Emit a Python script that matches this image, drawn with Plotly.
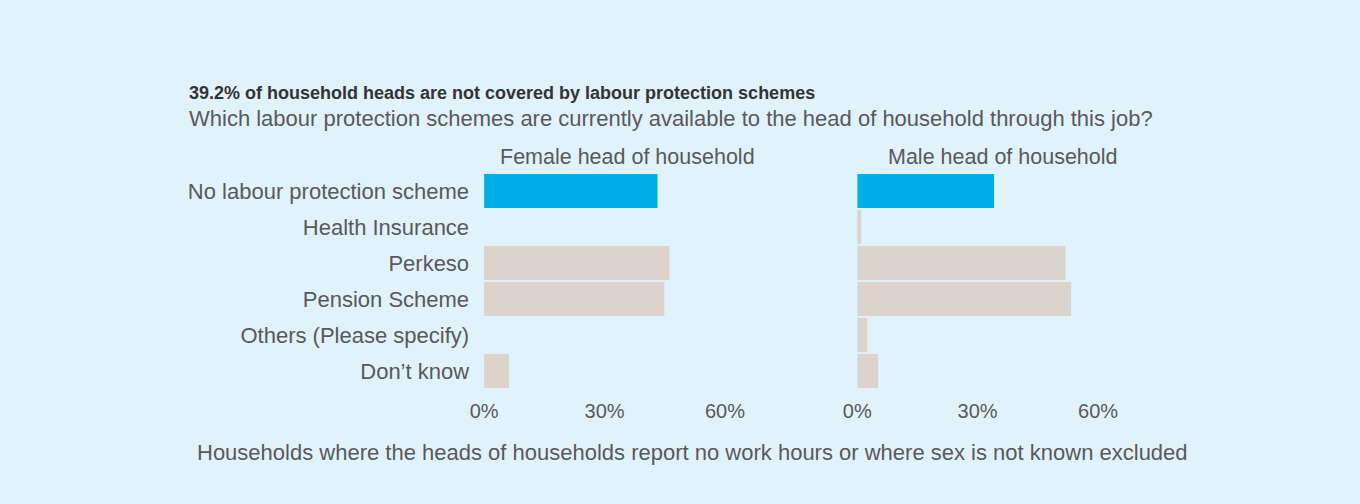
import plotly.graph_objects as go

# Survey categories (top to bottom) and share of household heads (%)
categories = [
    "No labour protection scheme",
    "Health Insurance",
    "Perkeso",
    "Pension Scheme",
    "Others (Please specify)",
    "Don\u2019t know",
]
female_pct = [43.2, 0.0, 46.2, 44.9, 0.0, 6.2]
male_pct = [34.1, 1.0, 51.9, 53.3, 2.5, 5.2]

panel_titles = ["Female head of household", "Male head of household"]
tick_values = [0, 30, 60]
tick_labels = ["0%", "30%", "60%"]

title_text = "39.2% of household heads are not covered by labour protection schemes"
subtitle_text = ("Which labour protection schemes are currently available to the head "
                 "of household through this job?")
note_text = ("Households where the heads of households report no work hours or where "
             "sex is not known excluded")

W, H = 1360, 504
BG = "#e0f3fd"
BLUE = "#00aee6"
BEIGE = "#dcd3cc"
TEXT = "#595959"
FONT = "Liberation Sans, Arial, sans-serif"


def px_x(x):
    return x / W


def px_y(y):
    return 1 - y / H


bar_colors = [BLUE] + [BEIGE] * (len(categories) - 1)

fig = go.Figure()
fig.add_trace(go.Bar(
    x=female_pct, y=categories, orientation="h",
    marker=dict(color=bar_colors, line=dict(width=0)),
    xaxis="x", yaxis="y", hoverinfo="x+y", showlegend=False,
))
fig.add_trace(go.Bar(
    x=male_pct, y=categories, orientation="h",
    marker=dict(color=bar_colors, line=dict(width=0)),
    xaxis="x2", yaxis="y2", hoverinfo="x+y", showlegend=False,
))

y_dom = [px_y(389), px_y(173)]
x_common = dict(
    range=[0, 72], tickvals=tick_values, ticktext=tick_labels,
    showgrid=False, zeroline=False, showline=False, ticks="",
    tickfont=dict(size=20, color=TEXT, family=FONT),
    ticklabelstandoff=8, fixedrange=True,
)
y_common = dict(
    categoryorder="array", categoryarray=categories, autorange="reversed",
    showgrid=False, zeroline=False, showline=False, ticks="",
    tickfont=dict(size=22, color=TEXT, family=FONT), fixedrange=True,
    domain=y_dom,
)

fig.update_layout(
    width=W, height=H,
    margin=dict(l=0, r=0, t=0, b=0),
    paper_bgcolor=BG, plot_bgcolor=BG,
    bargap=0.056,
    font=dict(family=FONT, color=TEXT),
    xaxis=dict(domain=[px_x(475), px_x(767)], anchor="y", **x_common),
    xaxis2=dict(domain=[px_x(852), px_x(1144)], anchor="y2", **x_common),
    yaxis=dict(anchor="x", showticklabels=True, ticklabelstandoff=14, **y_common),
    yaxis2=dict(anchor="x2", showticklabels=False, **y_common),
)

annotations = [
    dict(text=f"<b>{title_text}</b>", x=px_x(175), y=px_y(93),
         xanchor="left", yanchor="middle", font=dict(size=18, color="#333333")),
    dict(text=subtitle_text, x=px_x(175), y=px_y(118),
         xanchor="left", yanchor="middle", font=dict(size=22, color=TEXT)),
    dict(text=panel_titles[0], x=px_x(620), y=px_y(157),
         xanchor="center", yanchor="middle", font=dict(size=21.5, color=TEXT)),
    dict(text=panel_titles[1], x=px_x(999), y=px_y(157),
         xanchor="center", yanchor="middle", font=dict(size=21.5, color=TEXT)),
    dict(text=note_text, x=px_x(183), y=px_y(452),
         xanchor="left", yanchor="middle", font=dict(size=22, color=TEXT)),
]
for a in annotations:
    a.update(xref="paper", yref="paper", showarrow=False)
    a["font"]["family"] = FONT
fig.update_layout(annotations=annotations)

fig.write_html("out.html")
